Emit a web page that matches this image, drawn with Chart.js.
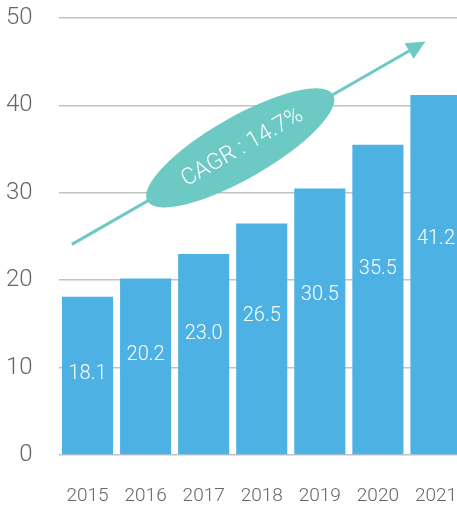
<!DOCTYPE html>
<html>
<head>
<meta charset="utf-8">
<script src="https://cdn.jsdelivr.net/npm/chart.js@4"></script>
<style>
    html, body { margin: 0; padding: 0; background: #fff; overflow: hidden; }
    canvas { display: block; }
</style>
</head>
<body>
<canvas id="marketChart" width="465" height="508"></canvas>
<script>
// Market size by year
const years = ['2015', '2016', '2017', '2018', '2019', '2020', '2021'];
const marketSize = [18.1, 20.2, 23.0, 26.5, 30.5, 35.5, 41.2];
const cagrText = 'CAGR : 14.7%';

// Trend arrow ends, in axis units (category index, value)
const trendFrom = { x: -0.27, y: 24.1 };
const trendTo = { x: 5.82, y: 47.3 };

const barColor = '#4db1e4';
const trendColor = '#6dc9c3';
const fontFamily = 'Roboto, "Noto Sans", sans-serif';

// White value labels inside the bars
const valueLabels = {
    id: 'valueLabels',
    afterDatasetsDraw(chart) {
        const { ctx } = chart;
        const meta = chart.getDatasetMeta(0);
        ctx.save();
        ctx.fillStyle = '#fff';
        ctx.font = '300 20px ' + fontFamily;
        ctx.textAlign = 'center';
        ctx.textBaseline = 'middle';
        meta.data.forEach((bar, i) => {
            const h = bar.base - bar.y;
            const up = Math.min(h * 0.6, h - 77);
            ctx.fillText(marketSize[i].toFixed(1), bar.x, bar.base - up);
        });
        ctx.restore();
    }
};

// Growth arrow with CAGR badge
const trendArrow = {
    id: 'trendArrow',
    afterDraw(chart) {
        const { ctx, scales: { x, y } } = chart;
        const step = x.getPixelForValue(1) - x.getPixelForValue(0);
        const x0 = x.getPixelForValue(0) + trendFrom.x * step;
        const y0 = y.getPixelForValue(trendFrom.y);
        const x1 = x.getPixelForValue(0) + trendTo.x * step;
        const y1 = y.getPixelForValue(trendTo.y);
        const ang = Math.atan2(y1 - y0, x1 - x0);

        ctx.save();
        ctx.strokeStyle = trendColor;
        ctx.fillStyle = trendColor;
        ctx.lineWidth = 3;
        ctx.beginPath();
        ctx.moveTo(x0, y0);
        ctx.lineTo(x1 - 12 * Math.cos(ang), y1 - 12 * Math.sin(ang));
        ctx.stroke();

        // arrow head
        ctx.translate(x1, y1);
        ctx.rotate(ang);
        ctx.beginPath();
        ctx.moveTo(0, 0);
        ctx.lineTo(-19, -9);
        ctx.lineTo(-19, 9);
        ctx.closePath();
        ctx.fill();
        ctx.restore();

        // badge
        const t = 0.476;
        const cx = x0 + (x1 - x0) * t;
        const cy = y0 + (y1 - y0) * t;
        ctx.save();
        ctx.translate(cx, cy);
        ctx.rotate(ang);
        ctx.fillStyle = trendColor;
        ctx.beginPath();
        ctx.ellipse(0, 0, 107, 31, 0, 0, Math.PI * 2);
        ctx.fill();
        ctx.fillStyle = '#fff';
        ctx.font = '300 23px ' + fontFamily;
        ctx.textAlign = 'center';
        ctx.textBaseline = 'middle';
        ctx.fillText(cagrText, 2, 1);
        ctx.restore();
    }
};

new Chart(document.getElementById('marketChart'), {
    type: 'bar',
    data: {
        labels: years,
        datasets: [{
            data: marketSize,
            backgroundColor: barColor,
            barPercentage: 0.88,
            categoryPercentage: 1.0
        }]
    },
    options: {
        responsive: false,
        animation: false,
        layout: { padding: { top: 18, right: 0, left: 0, bottom: 0 } },
        plugins: {
            legend: { display: false },
            tooltip: { enabled: false }
        },
        scales: {
            x: {
                grid: { display: false, drawTicks: false },
                border: { display: false },
                ticks: {
                    color: '#666',
                    font: { family: fontFamily, size: 19, weight: 300 },
                    padding: 30,
                    maxRotation: 0
                },
                afterFit(scale) {
                    scale.height = 53;
                    scale.paddingLeft = 0;
                    scale.paddingRight = 0;
                }
            },
            y: {
                min: 0,
                max: 50,
                ticks: {
                    stepSize: 10,
                    color: '#666',
                    font: { family: fontFamily, size: 24, weight: 300 },
                    padding: 26
                },
                grid: { color: '#c2c2c2', lineWidth: 1.5, drawTicks: false },
                border: { display: false },
                afterFit(scale) {
                    scale.width = 58.5;
                    scale.paddingTop = 0;
                    scale.paddingBottom = 0;
                }
            }
        }
    },
    plugins: [valueLabels, trendArrow]
});
</script>
</body>
</html>
